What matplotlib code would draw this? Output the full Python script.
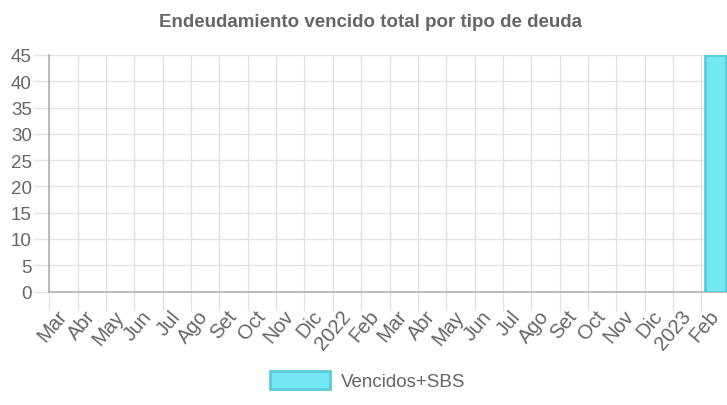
import matplotlib.pyplot as plt
import numpy as np

fam = ['Liberation Sans Narrow', 'Liberation Sans', 'DejaVu Sans']
plt.rcParams['font.family'] = fam

meses = ['Mar', 'Abr', 'May', 'Jun', 'Jul', 'Ago', 'Set', 'Oct', 'Nov', 'Dic', '2022', 'Feb',
         'Mar', 'Abr', 'May', 'Jun', 'Jul', 'Ago', 'Set', 'Oct', 'Nov', 'Dic', '2023', 'Feb']
vencidos_sbs = [0, 0, 0, 0, 0, 0, 0, 0, 0, 0, 0, 0,
                0, 0, 0, 0, 0, 0, 0, 0, 0, 0, 0, 45]

gris = '#666666'
fig = plt.figure(figsize=(7.27, 4.06), dpi=100)
ax = fig.add_axes([49.3 / 727, 1 - 292.5 / 406, 680.4 / 727, 236.5 / 406])

x = np.arange(len(meses))
# las barras en cero no se dibujan (sin borde visible)
alturas = [v if v else np.nan for v in vencidos_sbs]
ax.bar(x, alturas, width=0.72, color='#73e8f4', edgecolor='#5ccbd8', linewidth=2,
       label='Vencidos+SBS', zorder=3)

ax.set_xlim(-0.5, len(meses) - 0.5)
ax.set_ylim(0, 45)
ax.set_yticks(np.arange(0, 46, 5))
ax.set_xticks(x)
ax.set_xticklabels(meses, rotation=50, ha='right', va='center', rotation_mode='anchor')
ax.set_xticks(np.arange(-0.5, len(meses)), minor=True)

ax.tick_params(axis='x', which='major', length=0, pad=15, labelsize=14.5, labelcolor=gris)
ax.tick_params(axis='x', which='minor', length=14, width=1, color='#e2e2e2')
ax.tick_params(axis='y', length=11.5, width=1, color='#e2e2e2', pad=1, labelsize=13.5, labelcolor=gris)

ax.grid(True, axis='y', color='#e2e2e2', linewidth=1, zorder=0)
ax.grid(True, axis='x', which='minor', color='#e2e2e2', linewidth=1, zorder=0)

for s in ['top', 'right']:
    ax.spines[s].set_visible(False)
for s in ['left', 'bottom']:
    ax.spines[s].set_color('#b0b0b0')
    ax.spines[s].set_linewidth(1.2)

fig.suptitle('Endeudamiento vencido total por tipo de deuda', x=0.51, y=0.965,
             fontsize=13.5, fontweight='bold', color=gris)

leg = fig.legend(loc='lower center', bbox_to_anchor=(0.506, -0.005), frameon=False,
                 fontsize=13.5, handlelength=3.2, handleheight=1.1, handletextpad=0.6)
for t in leg.get_texts():
    t.set_color(gris)

fig.savefig('out.png', dpi=100)
